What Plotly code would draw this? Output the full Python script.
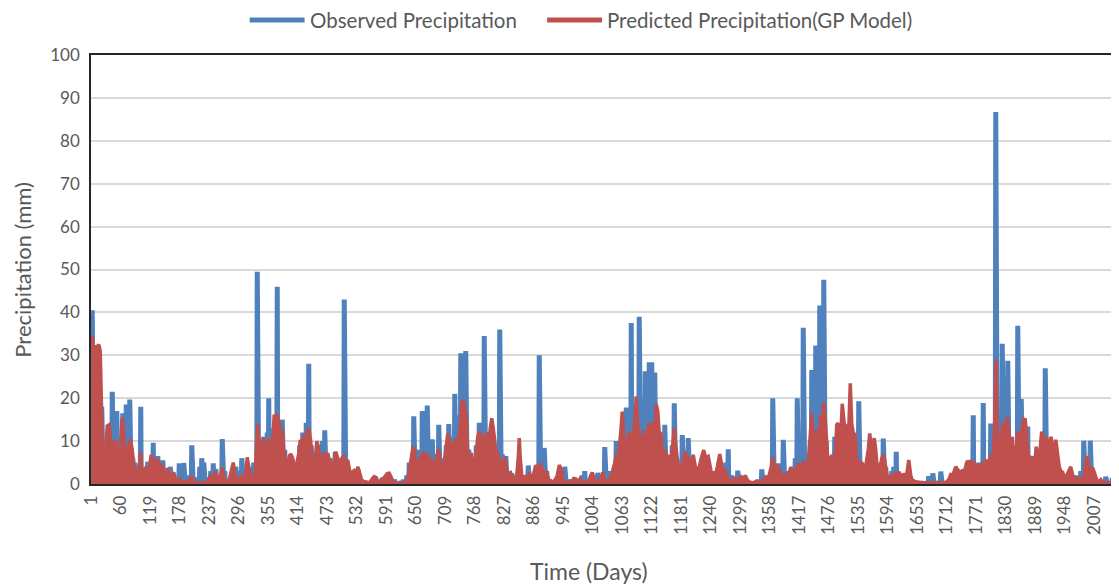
import plotly.graph_objects as go

N_DAYS = 2050

tick_days = [1, 60, 119, 178, 237, 296, 355, 414, 473, 532, 591, 650, 709, 768, 827,
             886, 945, 1004, 1063, 1122, 1181, 1240, 1299, 1358, 1417, 1476, 1535,
             1594, 1653, 1712, 1771, 1830, 1889, 1948, 2007]

# Observed precipitation: rain days (day index, mm); other days are 0
obs_day = [3, 5, 8, 14, 22, 28, 34, 40, 43, 48, 52, 58, 64, 67, 71, 75, 78, 84, 88, 95, 100, 106, 110, 114, 120, 125, 130, 134, 139, 144, 150, 155, 159, 165, 171, 177,
           186, 193, 202, 210, 218, 222, 226, 233, 240, 245, 250, 256, 263, 268, 275, 282, 290, 296, 302, 308, 315, 320, 326, 333, 337, 342, 348, 353, 356, 360, 364, 368,
           373, 377, 383, 388, 395, 400, 405, 412, 418, 424, 431, 436, 441, 447, 452, 458, 463, 468, 473, 478, 483, 489, 494, 500, 507, 512, 518, 524, 529, 535, 541, 548,
           567, 575, 583, 590, 600, 607, 615, 625, 632, 637, 646, 652, 657, 663, 668, 673, 678, 683, 688, 693, 696, 701, 706, 711, 716, 721, 725, 728, 733, 736, 740,
           746, 750, 756, 761, 766, 771, 777, 782, 787, 791, 796, 802, 808, 813, 818, 823, 830, 836, 842, 850, 857, 863, 869, 875, 882, 890, 897, 901, 907, 912, 918, 925,
           936, 942, 948, 955, 962, 970, 977, 983, 988, 995, 1003, 1010, 1014, 1021, 1028, 1034, 1040, 1047, 1051, 1056, 1063, 1068, 1071, 1076, 1081, 1086, 1091, 1097, 1102, 1106, 1109, 1113, 1117,
           1122, 1128, 1133, 1138, 1143, 1148, 1153, 1158, 1163, 1167, 1172, 1177, 1183, 1189, 1195, 1200, 1206, 1212, 1218, 1226, 1232, 1238, 1245, 1252, 1258, 1264, 1270, 1275, 1281, 1288, 1294, 1300,
           1310, 1318, 1326, 1334, 1342, 1348, 1355, 1364, 1369, 1376, 1381, 1385, 1391, 1397, 1404, 1409, 1413, 1418, 1425, 1430, 1435, 1439, 1442, 1446, 1450, 1455, 1458, 1462, 1466, 1471, 1476, 1482, 1488, 1492,
           1496, 1501, 1507, 1512, 1518, 1524, 1530, 1536, 1541, 1547, 1553, 1558, 1563, 1569, 1575, 1580, 1585, 1590, 1596, 1602, 1606, 1611, 1616, 1622, 1628, 1636, 1644, 1652, 1660, 1668, 1676,
           1684, 1690, 1700, 1708, 1716, 1722, 1730, 1736, 1743, 1748, 1753, 1760, 1765, 1770, 1776, 1780, 1785, 1790, 1795, 1800, 1804, 1810, 1815, 1819, 1823, 1828, 1834, 1839, 1843, 1848, 1854, 1858, 1861, 1865,
           1869, 1874, 1879, 1884, 1890, 1896, 1902, 1909, 1913, 1918, 1922, 1927, 1932, 1938, 1944, 1950, 1956, 1962, 1968, 1974, 1980, 1986, 1992, 1999, 2004, 2010, 2016, 2024, 2030, 2036, 2043]
obs_mm = [40.5, 30, 12, 9, 18, 6, 12, 14, 21.5, 10, 17, 8, 16.5, 9, 18.5, 12, 19.7, 6, 5, 4, 18, 3, 3.5, 5.2, 4, 9.6, 4, 6.5, 3, 5.5, 2, 3, 4, 2, 1.5, 4.8,
          4.9, 2, 9, 1.5, 4, 6, 5, 1.5, 3, 4.8, 3.5, 2, 10.5, 3, 1, 2, 4, 3, 6, 2, 3, 4, 5, 49.5, 6, 8, 10, 12, 20, 13, 9, 15,
          46, 14, 15, 8, 6, 5, 3, 4, 9, 12, 14.3, 28, 9, 6, 7, 9, 10, 12.5, 7, 6, 4, 7.5, 5, 4, 43, 4, 3, 2, 3.5, 3.3, 1, 0.5,
          1.7, 1, 1.5, 0.5, 1, 1, 0.5, 1, 2, 5, 15.8, 6, 8, 17, 10, 18.3, 9, 10.4, 5, 7, 13.8, 6, 5, 9, 14, 8, 11, 21, 12, 16, 30.5,
          20, 31, 8, 6, 5, 9, 14.3, 12, 34.5, 10, 8, 12, 7, 9, 36, 7, 6.5, 3, 2.5, 2, 3, 2, 1.5, 4.3, 1.5, 3, 30, 8, 8.4, 3, 1, 0.5,
          2, 1.5, 4, 1, 1, 0.5, 1, 2, 3, 1, 1.5, 2, 2.6, 1, 8.6, 2, 3, 4, 10, 5, 8, 12, 17.8, 10, 37.5, 12, 15, 39, 14, 20, 26.3, 18, 28.4,
          28.4, 26, 12, 9, 8, 13.8, 5, 6, 9, 18.8, 6, 4, 11.4, 8, 10.7, 4, 5, 3, 4, 5, 3, 2, 2, 3, 4, 3, 5, 8.1, 2, 1, 3.1, 1,
          1, 0.5, 0.5, 1, 3.4, 1, 2, 20, 4, 4.8, 2, 10.3, 2, 3, 4, 6, 20, 5, 36.4, 7, 5, 10, 26.6, 12, 32.3, 15, 41.6, 20, 47.6, 10, 5, 4, 11, 6,
          3, 8, 10, 6, 9, 5, 8, 19.3, 4, 3, 5, 8, 5, 6, 3, 5, 10.6, 4, 2, 3, 4, 7.5, 2, 1.5, 2, 3, 1, 0.5, 0.5, 0.5, 1.8,
          2.5, 0.5, 2.9, 0.5, 1, 2, 3, 2, 3, 2, 5, 4, 16, 4, 5, 3, 18.9, 5, 4, 14.1, 8, 86.7, 12, 15, 32.7, 12, 28.7, 9, 8, 6, 36.9, 12, 19.8, 10,
          12, 13.4, 5, 3, 6, 4, 8, 27, 6, 4, 6, 3.8, 3, 2, 1.5, 1, 2, 1, 2, 1, 3, 10.1, 5, 10.1, 3, 1, 0.5, 0.5, 1.7, 0.5, 1.4]

# Predicted precipitation (GP model), read at successive days
pred_day = [1, 3, 6, 9, 13, 16, 19, 21, 23, 25, 27, 30, 33, 37, 41, 44, 47, 50, 54, 57, 60, 63, 66, 69, 73, 76, 79, 83, 87, 91, 94, 98, 100, 103, 107, 111, 115, 118, 121, 125, 128, 131, 135, 138, 141, 145, 149, 154, 158, 162, 166, 170, 174, 178, 182,
            186, 195, 202, 207, 215, 225, 232, 236, 239, 243, 249, 254, 258, 263, 267, 272, 277, 281, 285, 289, 293, 297, 302, 306, 310, 313, 317, 321, 325, 329, 332, 334, 337, 340, 343, 345, 348, 351, 353, 356, 359, 362, 365, 367,
            370, 373, 376, 380, 383, 386, 390, 394, 397, 400, 404, 408, 412, 416, 419, 423, 426, 430, 433, 436, 440, 443, 446, 449, 452, 456, 459, 462, 466, 470, 474, 478, 482, 486, 490, 494, 498, 502, 506, 510, 514, 518, 522, 526, 530, 534, 538, 542, 546, 552,
            558, 563, 567, 571, 575, 580, 585, 589, 593, 597, 601, 605, 612, 620, 628, 633, 637, 641, 644, 648, 651, 654, 658, 662, 666, 670, 674, 678, 681, 684, 687, 690, 693, 696, 699, 702, 705, 708, 711, 714, 717, 720, 724, 728, 731, 734, 737, 740, 742,
            745, 748, 751, 754, 758, 761, 764, 767, 770, 774, 777, 780, 784, 787, 790, 793, 796, 799, 802, 805, 808, 811, 814, 817, 820, 823, 827, 830, 833, 836, 840, 844, 848, 852, 855, 857, 859, 862, 866, 870, 874, 877, 881, 885, 890, 894, 897, 900, 903, 907, 910, 914, 918, 924, 929,
            933, 937, 941, 945, 950, 956, 962, 966, 970, 975, 979, 983, 987, 992, 997, 1000, 1003, 1007, 1012, 1017, 1021, 1024, 1028, 1032, 1037, 1041, 1044, 1048, 1051, 1054, 1057, 1060, 1063, 1066, 1069, 1072, 1075, 1078, 1081, 1084, 1087, 1091, 1094, 1097, 1100, 1103, 1105, 1108, 1111, 1114, 1116,
            1119, 1122, 1125, 1128, 1131, 1134, 1137, 1140, 1143, 1146, 1149, 1152, 1155, 1158, 1161, 1164, 1167, 1170, 1173, 1176, 1178, 1181, 1184, 1187, 1190, 1193, 1196, 1199, 1202, 1205, 1209, 1213, 1217, 1221, 1226, 1230, 1235, 1239, 1242, 1245, 1249, 1253, 1258, 1261, 1264, 1268, 1272, 1276, 1280, 1284, 1288, 1292, 1297, 1301, 1305,
            1309, 1313, 1318, 1325, 1332, 1338, 1344, 1349, 1353, 1357, 1361, 1364, 1367, 1371, 1374, 1377, 1381, 1385, 1389, 1393, 1396, 1400, 1404, 1408, 1412, 1415, 1418, 1422, 1425, 1428, 1431, 1434, 1437, 1440, 1442, 1445, 1448, 1452, 1455, 1458, 1460, 1463, 1466, 1469, 1472, 1475, 1478, 1482, 1485, 1489, 1492,
            1495, 1499, 1503, 1507, 1511, 1515, 1519, 1522, 1525, 1529, 1532, 1536, 1540, 1543, 1547, 1551, 1555, 1558, 1561, 1564, 1567, 1570, 1574, 1578, 1582, 1586, 1590, 1594, 1598, 1602, 1606, 1610, 1613, 1616, 1620, 1623, 1626, 1630, 1633, 1636, 1640, 1644, 1650, 1656, 1662, 1668, 1674, 1680,
            1686, 1692, 1698, 1704, 1710, 1716, 1720, 1724, 1727, 1730, 1733, 1737, 1740, 1743, 1747, 1750, 1753, 1756, 1760, 1763, 1766, 1770, 1773, 1776, 1780, 1783, 1786, 1790, 1794, 1797, 1800, 1803, 1806, 1808, 1810, 1812, 1814, 1816, 1819, 1822, 1825, 1828, 1831, 1833, 1836, 1839, 1843, 1846, 1849, 1852, 1854, 1857, 1860, 1863, 1866,
            1869, 1872, 1876, 1879, 1882, 1885, 1888, 1891, 1894, 1897, 1900, 1902, 1905, 1908, 1911, 1914, 1918, 1921, 1924, 1927, 1930, 1934, 1937, 1940, 1944, 1948, 1952, 1957, 1960, 1964, 1968, 1972, 1975, 1979, 1984, 1988, 1992, 1996, 2000, 2004, 2008, 2012, 2016, 2020, 2025, 2030, 2036, 2042, 2048]
pred_mm = [33, 34.5, 31, 32, 32, 32.5, 31, 20, 3, 0.3, 2, 8, 13.5, 13.8, 8, 10, 3, 10.3, 6, 2, 10, 15.5, 12, 6, 4, 9, 10.4, 8, 3, 0.5, 3, 5, 7.5, 1, 3, 4, 2, 5, 6.8, 5, 3, 6, 5, 3, 4.8, 3, 1.5, 3.7, 1, 2, 2.7, 1, 0.5, 1.3, 0.3,
           0.5, 0.5, 1.7, 0.3, 0.3, 0.3, 0.3, 1, 1.8, 1.5, 2.6, 1.5, 1, 3.8, 1, 0.5, 1, 3, 5, 2, 0.5, 1, 2, 1, 3, 6.2, 3, 0.5, 1, 3, 10, 14, 5, 7, 9, 11, 6, 8, 9, 10.5, 8, 10, 12, 16.2,
           10, 16.4, 14, 12, 12.6, 8, 5, 4, 6.5, 7, 6, 3, 4.8, 7, 10.3, 9, 11.4, 10, 12, 13, 10, 3, 1, 6, 10, 8, 2, 5, 7.4, 6, 7.2, 5, 3, 5, 7.5, 6, 4, 6, 6.5, 5, 5.6, 3, 2.5, 3, 1.5, 4, 2, 0.8, 0.6, 0.4,
           0.3, 1.2, 1.7, 1.5, 0.3, 0.5, 1.2, 1.8, 2.4, 2.5, 1.2, 0.5, 0.2, 0.2, 0.3, 1, 3, 6, 8.3, 8, 1, 3, 6, 6.5, 7.2, 6.5, 6.8, 5, 6, 4, 2, 5, 7, 8.1, 4, 5, 3, 6, 9, 11.7, 10, 7, 9, 10, 10.7, 8, 11, 15, 19,
           19.5, 18, 15, 7, 6, 7.2, 5, 3, 6, 11, 12.2, 11, 10, 11, 11, 12, 9, 13, 15.3, 13, 9, 7, 7.2, 5, 1, 5, 6.2, 5, 2, 2, 2.5, 1, 1.5, 2, 6, 10.7, 6, 2, 1, 2, 1, 2.7, 1, 2, 4.4, 3, 4, 4.8, 3, 2, 3.1, 1.5, 0.5, 0.3, 1,
           2, 4.4, 3.5, 1, 0.3, 0.5, 0.5, 1.3, 1.2, 0.5, 1.3, 0.5, 0.3, 0.5, 1, 2, 2.7, 1, 0.5, 1, 1.5, 2.7, 1, 0.5, 1, 2, 3, 5, 6.8, 5, 8, 12, 16.9, 9, 5, 8, 11, 12.2, 6, 10, 13, 20.4, 13, 10, 11, 8, 12.6, 9, 10, 12, 14.2,
           12, 14.3, 10, 12, 18.6, 17, 12, 11.8, 8, 5, 8, 6, 6.8, 3, 5, 10, 13, 9, 6, 3, 4.4, 2, 5, 6, 7.5, 6, 6, 4, 5, 6.8, 4, 3, 4, 6, 7.9, 6, 6.4, 4, 2, 2.9, 2, 4, 7, 5, 3, 3.3, 2, 1, 0.5, 1, 1.3, 0.5, 1.5, 1.7, 1,
           2, 1, 0.3, 0.3, 0.6, 0.3, 1, 1.5, 0.5, 2, 4, 6.2, 4, 3, 4, 3.7, 2, 1.5, 2.1, 1, 2, 3.9, 3, 2, 4, 4.8, 3, 4, 5.4, 4, 5, 4, 8, 12, 16.5, 10, 9, 12.6, 10, 13, 16.1, 12, 19, 15, 8, 4, 5, 6.8, 4, 7, 13.8,
           14.2, 8, 18.7, 14, 13.4, 9, 23.5, 14, 12, 11.4, 6, 4, 5, 4.8, 3, 5, 8, 11.8, 8, 9, 10.7, 8, 2, 3, 6, 6.8, 4, 1, 1.5, 2, 2, 2.5, 2, 2.8, 2, 1, 2.5, 1.5, 3, 5.6, 2, 0.5, 0.5, 0.3, 0.3, 0.3, 0.3, 0.3,
           0.3, 0.3, 0.3, 0.3, 0.3, 1, 2.2, 2, 3, 4, 3.5, 3, 2.5, 3.1, 3, 4, 5.4, 5, 5.3, 4.5, 5.2, 4, 4, 4.4, 4, 4.5, 5, 5.4, 5, 6, 6.4, 6, 8, 15, 29, 18, 10, 11, 9, 12, 14.2, 13, 14, 15.7, 12, 9, 11, 5, 6, 10, 12.2, 9, 11, 13, 15.1,
           15, 10, 5, 5.5, 6.5, 4, 5, 8.7, 6, 4, 10, 12.2, 11, 10, 11, 9, 10, 11, 7, 8, 10.3, 6, 4, 3, 2.7, 1, 2, 3, 4, 2, 1, 0.5, 1.8, 0.5, 1, 3, 6.5, 4, 3, 3.8, 2, 1, 0.5, 1, 0.3, 0.3, 0.3, 0.3, 0.3]

assert len(obs_day) == len(obs_mm), (len(obs_day), len(obs_mm))
assert len(pred_day) == len(pred_mm), (len(pred_day), len(pred_mm))

BLUE = "#4F81BD"
RED = "#C0504D"
TXT = "#595959"
FONT = "Lato"

days = list(range(1, N_DAYS + 1))
obs_series = [0.0] * N_DAYS
for d, v in zip(obs_day, obs_mm):
    obs_series[d - 1] = v

fig = go.Figure()
fig.add_trace(go.Scatter(x=days, y=obs_series, mode="lines",
                         line=dict(color=BLUE, width=5),
                         name="Observed Precipitation", showlegend=False))
fig.add_trace(go.Scatter(x=pred_day, y=pred_mm, mode="lines",
                         line=dict(color=RED, width=3.5),
                         fill="tozeroy", fillcolor=RED,
                         name="Predicted Precipitation(GP Model)", showlegend=False))

# The page puts the figure 8px from the top-left corner of the window
OFF = 8
W, H = 1119 - OFF, 586 - OFF
# plot area in window pixels
L, R, T, B = 91, 1118, 55, 484

def px(x):
    return (x - L) / (R - L)

def py(y):
    return (B - y) / (B - T)

shapes = [
    dict(type="line", xref="paper", yref="paper", x0=px(250), x1=px(305), y0=py(20), y1=py(20),
         line=dict(color=BLUE, width=5)),
    dict(type="line", xref="paper", yref="paper", x0=px(548), x1=px(603), y0=py(20), y1=py(20),
         line=dict(color=RED, width=5)),
]
annotations = [
    dict(text="Observed Precipitation", xref="paper", yref="paper", x=px(308), y=py(20),
         xanchor="left", yanchor="middle", showarrow=False, font=dict(family=FONT, size=20.5, color=TXT)),
    dict(text="Predicted Precipitation(GP Model)", xref="paper", yref="paper", x=px(606), y=py(20),
         xanchor="left", yanchor="middle", showarrow=False, font=dict(family=FONT, size=20.5, color=TXT)),
    dict(text="Time (Days)", xref="paper", yref="paper", x=px(590), y=py(571),
         xanchor="center", yanchor="middle", showarrow=False, font=dict(family=FONT, size=23, color=TXT)),
    dict(text="Precipitation (mm)", xref="paper", yref="paper", x=px(22), y=0.5, textangle=-90,
         xanchor="center", yanchor="middle", showarrow=False, font=dict(family=FONT, size=22, color=TXT)),
]

fig.update_layout(
    width=W, height=H,
    margin=dict(l=L - OFF, r=1119 - R, t=T - OFF, b=586 - B),
    paper_bgcolor="white", plot_bgcolor="white",
    showlegend=False,
    shapes=shapes, annotations=annotations,
    font=dict(family=FONT, color=TXT),
)
fig.update_xaxes(range=[0.5, N_DAYS + 0.5], tickmode="array",
                 tickvals=tick_days, ticktext=[str(t) for t in tick_days],
                 tickangle=-90, tickfont=dict(family=FONT, size=17, color=TXT),
                 showgrid=False, zeroline=False,
                 showline=True, mirror=True, linecolor="#262626", linewidth=1.5,
                 ticks="outside", ticklen=3, tickcolor="rgba(0,0,0,0)")
fig.update_yaxes(range=[0, 100], dtick=10, tickfont=dict(family=FONT, size=17, color=TXT),
                 showgrid=True, gridcolor="#D9D9D9", gridwidth=1.5, zeroline=False,
                 showline=True, mirror=True, linecolor="#262626", linewidth=1.5,
                 ticks="outside", ticklen=6, tickcolor="rgba(0,0,0,0)")

fig.write_html("out.html")
